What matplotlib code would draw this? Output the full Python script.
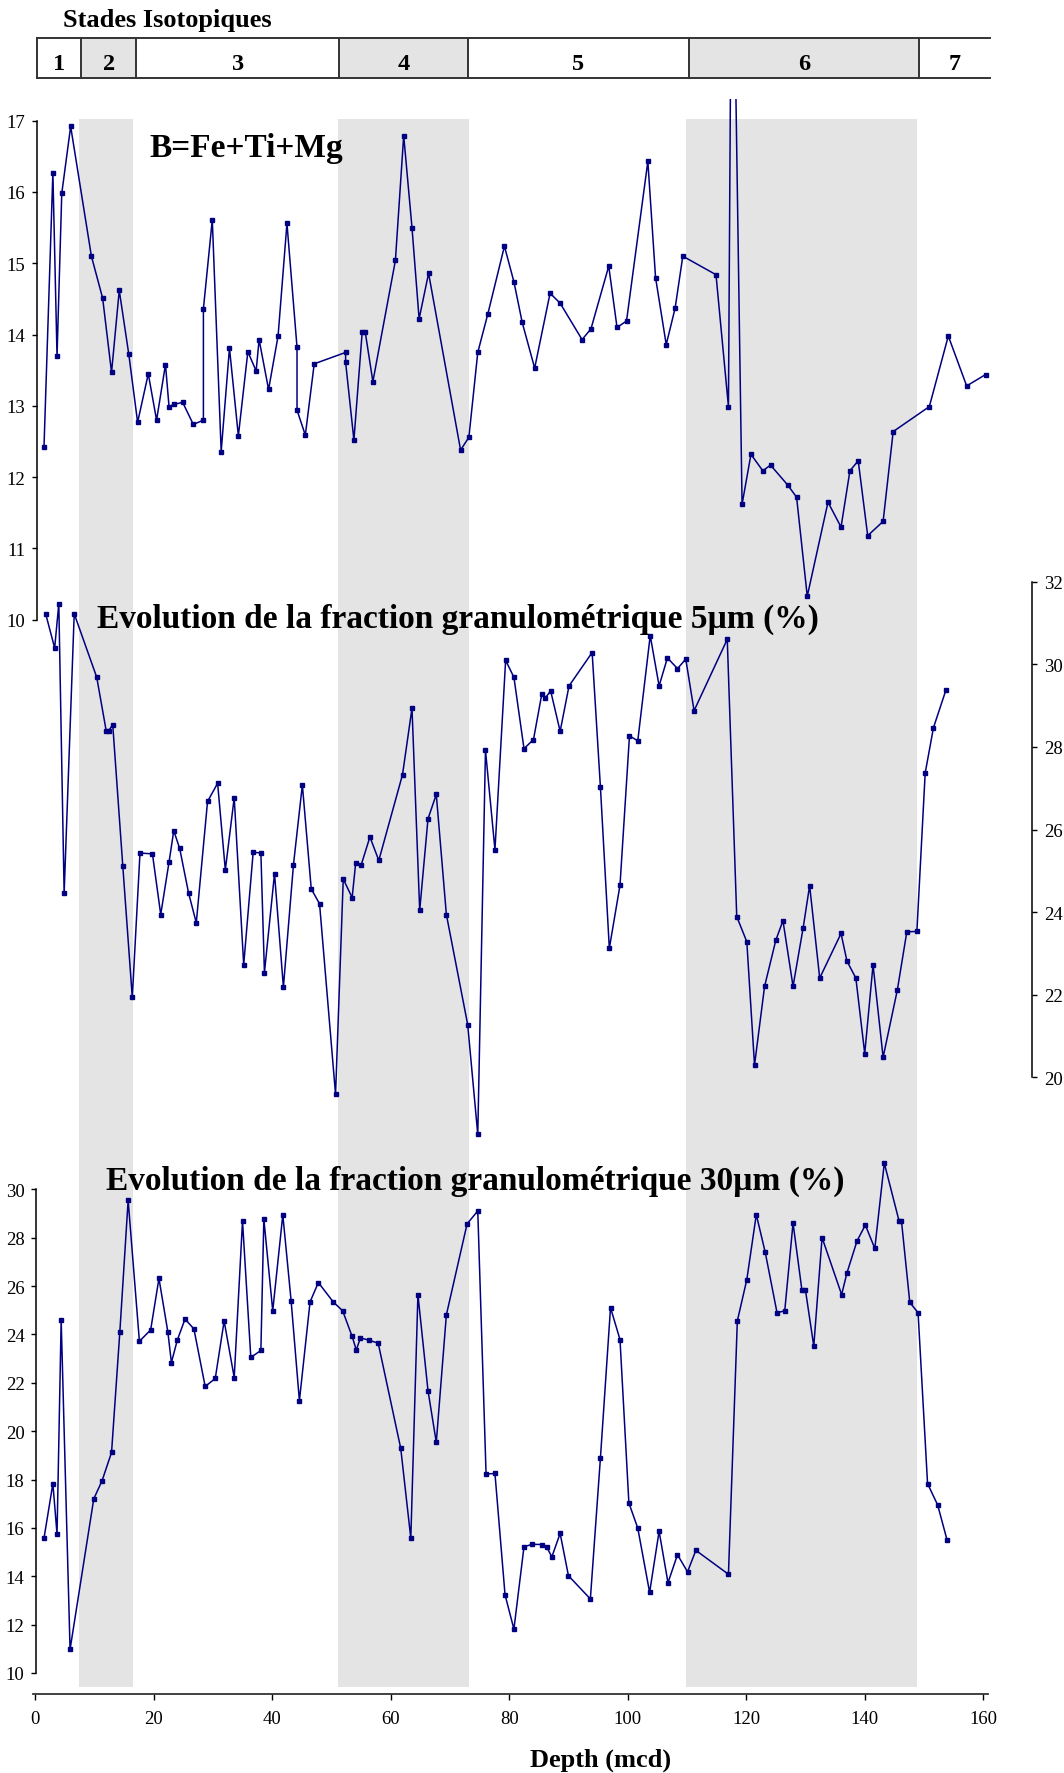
import matplotlib
matplotlib.use('Agg')
import matplotlib.pyplot as plt

plt.rcParams['font.family'] = 'Liberation Serif'

### DATA

# stades isotopiques (limites en profondeur, mcd)
stage_labels = ['1', '2', '3', '4', '5', '6', '7']
stage_bounds = [0.4, 7.75, 17.1, 51.3, 73.1, 110.3, 149.2, 161.2]
stage_grey = [False, True, False, True, False, True, False]
bands = [(7.4, 16.5), (51.1, 73.2), (109.8, 148.9)]

# B = Fe+Ti+Mg
top_d = [1.5, 3.0, 3.7, 4.5, 6.0, 9.5, 11.4, 12.9, 14.2, 15.8,
         17.3, 19.1, 20.5, 22.0, 22.6, 23.4, 24.9, 26.7, 28.4, 28.4,
         29.9, 31.4, 32.8, 34.3, 35.9, 37.3, 37.8, 39.4, 41.0, 42.5,
         44.2, 44.2, 45.6, 47.1, 52.4, 52.4, 53.8, 55.2, 55.7, 57.0,
         60.8, 62.2, 63.6, 64.8, 66.4, 71.8, 73.2, 74.7, 76.4, 79.2,
         80.8, 82.2, 84.3, 86.9, 88.6, 92.3, 93.8, 96.8, 98.2, 99.8,
         103.4, 104.7, 106.5, 108.0, 109.3, 114.9, 117.0, 117.6, 119.3, 120.8,
         122.8, 124.1, 127.0, 128.5, 130.3, 133.8, 136.0, 137.5, 138.9, 140.5,
         143.1, 144.8, 150.9, 154.1, 157.2, 160.4]
top_v = [12.42, 16.27, 13.70, 15.98, 16.92, 15.10, 14.51, 13.47, 14.62, 13.73,
         12.77, 13.45, 12.80, 13.58, 12.99, 13.02, 13.05, 12.74, 12.80, 14.36,
         15.61, 12.36, 13.81, 12.58, 13.76, 13.49, 13.93, 13.23, 13.98, 15.56,
         13.82, 12.94, 12.59, 13.59, 13.75, 13.61, 12.52, 14.04, 14.04, 13.34,
         15.04, 16.79, 15.50, 14.22, 14.86, 12.38, 12.56, 13.75, 14.29, 15.24,
         14.74, 14.17, 13.53, 14.58, 14.44, 13.93, 14.08, 14.96, 14.10, 14.19,
         16.43, 14.80, 13.86, 14.37, 15.10, 14.84, 12.99, 21.0, 11.62, 12.32,
         12.09, 12.17, 11.89, 11.72, 10.33, 11.65, 11.30, 12.09, 12.23, 11.18,
         11.38, 12.64, 12.99, 13.98, 13.28, 13.44]

# fraction 5 um (%)
mid_d = [1.8, 3.3, 4.0, 4.9, 6.6, 10.4, 12.0, 12.4, 13.1, 14.8,
         16.4, 17.7, 19.8, 21.2, 22.6, 23.4, 24.4, 25.9, 27.2, 29.1,
         30.8, 32.1, 33.6, 35.2, 36.8, 38.1, 38.7, 40.4, 41.9, 43.6,
         45.1, 46.6, 48.0, 50.7, 52.0, 53.5, 54.1, 55.0, 56.5, 58.0,
         62.0, 63.6, 64.9, 66.3, 67.7, 69.4, 73.0, 74.7, 76.0, 77.6,
         79.4, 80.8, 82.5, 84.1, 85.5, 86.1, 87.0, 88.6, 90.1, 94.0,
         95.4, 96.9, 98.7, 100.3, 101.7, 103.8, 105.3, 106.7, 108.4, 109.8,
         111.2, 116.8, 118.4, 120.1, 121.4, 123.1, 125.0, 126.2, 127.9, 129.6,
         130.7, 132.4, 136.0, 137.0, 138.5, 140.0, 141.4, 143.1, 145.5, 147.1,
         148.8, 150.2, 151.6, 153.7]
mid_v = [31.22, 30.40, 31.47, 24.46, 31.23, 29.69, 28.39, 28.39, 28.54, 25.11,
         21.93, 25.43, 25.41, 23.94, 25.21, 25.97, 25.54, 24.46, 23.74, 26.68,
         27.12, 25.02, 26.77, 22.72, 25.45, 25.43, 22.53, 24.93, 22.18, 25.15,
         27.08, 24.56, 24.20, 19.58, 24.80, 24.35, 25.19, 25.13, 25.82, 25.25,
         27.33, 28.94, 24.04, 26.26, 26.85, 23.94, 21.27, 18.61, 27.92, 25.51,
         30.10, 29.69, 27.96, 28.18, 29.28, 29.19, 29.36, 28.38, 29.48, 30.29,
         27.02, 23.12, 24.65, 28.27, 28.15, 30.70, 29.48, 30.16, 29.90, 30.13,
         28.88, 30.61, 23.89, 23.28, 20.29, 22.20, 23.32, 23.79, 22.20, 23.61,
         24.64, 22.40, 23.48, 22.81, 22.40, 20.57, 22.72, 20.48, 22.11, 23.52,
         23.53, 27.37, 28.47, 29.38]

# fraction 30 um (%)
bot_d = [1.5, 3.0, 3.7, 4.4, 5.9, 9.9, 11.3, 12.9, 14.3, 15.7,
         17.6, 19.5, 20.9, 22.4, 23.0, 24.0, 25.3, 26.8, 28.7, 30.4,
         31.9, 33.6, 35.0, 36.4, 38.1, 38.6, 40.1, 41.8, 43.2, 44.6,
         46.4, 47.8, 50.3, 51.9, 53.5, 54.2, 54.9, 56.4, 57.9, 61.7,
         63.4, 64.6, 66.3, 67.7, 69.4, 72.9, 74.7, 76.1, 77.6, 79.3,
         80.8, 82.5, 83.9, 85.6, 86.3, 87.2, 88.6, 90.0, 93.7, 95.4,
         97.1, 98.7, 100.2, 101.7, 103.7, 105.3, 106.8, 108.4, 110.1, 111.5,
         117.0, 118.5, 120.1, 121.7, 123.2, 125.2, 126.5, 127.9, 129.4, 130.0,
         131.4, 132.8, 136.1, 137.0, 138.7, 140.1, 141.7, 143.3, 145.8, 146.2,
         147.6, 149.0, 150.6, 152.3, 153.9]
bot_v = [15.57, 17.83, 15.74, 24.59, 10.97, 17.20, 17.95, 19.12, 24.11, 29.55,
         23.72, 24.19, 26.32, 24.11, 22.84, 23.77, 24.64, 24.23, 21.85, 22.18,
         24.56, 22.22, 28.69, 23.05, 23.34, 28.78, 24.98, 28.95, 25.40, 21.26,
         25.35, 26.15, 25.35, 24.98, 23.92, 23.36, 23.86, 23.76, 23.64, 19.29,
         15.57, 25.65, 21.68, 19.54, 24.81, 28.58, 29.11, 18.23, 18.25, 13.23,
         11.81, 15.22, 15.32, 15.31, 15.22, 14.80, 15.77, 14.02, 13.06, 18.90,
         25.11, 23.79, 17.03, 15.99, 13.33, 15.86, 13.73, 14.89, 14.18, 15.07,
         14.08, 24.56, 26.27, 28.96, 27.41, 24.90, 24.98, 28.61, 25.83, 25.83,
         23.52, 28.01, 25.65, 26.55, 27.87, 28.53, 27.56, 31.09, 28.69, 28.69,
         25.33, 24.90, 17.83, 16.95, 15.49]

### LAYOUT (pixels)

W, H = 1064, 1774
X0, SX = 35.1, 5.926          # pixel of depth 0, pixels per m
XMIN, XMAX = -1, 162
XL = X0 + XMIN * SX
XR = X0 + XMAX * SX

NAVY = '#000080'
GREY = '#e4e4e4'

def box(top, bottom):
    return [XL / W, 1 - bottom / H, (XR - XL) / W, (bottom - top) / H]

def clean(ax):
    ax.set_xlim(XMIN, XMAX)
    ax.patch.set_visible(False)
    for s in ax.spines.values():
        s.set_visible(False)
    ax.set_xticks([])

fig = plt.figure(figsize=(W / 100, H / 100), dpi=100)

# grey bands behind everything
bg = fig.add_axes(box(120, 1688))
bg.set_xlim(XMIN, XMAX)
bg.axis('off')
for a, b in bands:
    bg.axvspan(a, b, color=GREY, lw=0)

# stades isotopiques
hd = fig.add_axes(box(39.3, 79))
hd.set_xlim(XMIN, XMAX)
hd.set_ylim(0, 1)
hd.axis('off')
for i, lab in enumerate(stage_labels):
    a, b = stage_bounds[i], stage_bounds[i + 1]
    if stage_grey[i]:
        hd.axvspan(a, b, color=GREY, lw=0)
    hd.text((a + b) / 2, 0.36, lab, ha='center', va='center',
            fontsize=17.5, fontweight='bold')
hd.plot([stage_bounds[0], stage_bounds[-1]], [1, 1], color='#333333', lw=1.4, clip_on=False)
hd.plot([stage_bounds[0], stage_bounds[-1]], [0, 0], color='#333333', lw=1.4, clip_on=False)
for b in stage_bounds[:-1]:
    hd.plot([b, b], [0, 1], color='#333333', lw=1.4, clip_on=False)

fig.text(63 / W, 1 - 26.7 / H, 'Stades Isotopiques', ha='left', va='baseline',
         fontsize=19, fontweight='bold')

line_kw = dict(color=NAVY, lw=1.1, marker='s', ms=2.6, mfc=NAVY, mec=NAVY)
tick_kw = dict(direction='out', length=3.5, width=1, labelsize=13.5, pad=5)

# panneau 1 : B=Fe+Ti+Mg
ax1 = fig.add_axes(box(100.3, 620.8))
clean(ax1)
ax1.set_ylim(10, 17.3)
ax1.plot(top_d, top_v, **line_kw)
ax1.spines['left'].set_visible(True)
ax1.spines['left'].set_position(('data', 0.35))
ax1.spines['left'].set_bounds(10, 17)
ax1.spines['left'].set_linewidth(1.1)
ax1.set_yticks(range(10, 18))
ax1.tick_params(axis='y', **tick_kw)

# panneau 2 : fraction 5 um
ax2 = fig.add_axes(box(574.7, 1160.6))
clean(ax2)
ax2.set_ylim(18, 32.2)
ax2.plot(mid_d, mid_v, **line_kw)
ax2.yaxis.tick_right()
ax2.spines['right'].set_visible(True)
ax2.spines['right'].set_position(('axes', (1032 - XL) / (XR - XL)))
ax2.spines['right'].set_bounds(20, 32)
ax2.spines['right'].set_linewidth(1.1)
ax2.set_yticks(range(20, 33, 2))
ax2.tick_params(axis='y', **tick_kw)

# panneau 3 : fraction 30 um
ax3 = fig.add_axes(box(1151.8, 1694.8))
ax3.set_xlim(XMIN, XMAX)
ax3.patch.set_visible(False)
ax3.set_ylim(9.135, 31.6)
ax3.plot(bot_d, bot_v, **line_kw)
ax3.spines['top'].set_visible(False)
ax3.spines['right'].set_visible(False)
ax3.spines['left'].set_position(('data', 0.2))
ax3.spines['left'].set_bounds(10, 30)
ax3.spines['bottom'].set_bounds(-0.35, 160.8)
ax3.spines['left'].set_linewidth(1.1)
ax3.spines['bottom'].set_linewidth(1.3)
ax3.spines['bottom'].set_color('#333333')
ax3.set_yticks(range(10, 31, 2))
ax3.set_xticks(range(0, 161, 20))
ax3.tick_params(axis='y', **tick_kw)
ax3.tick_params(axis='x', direction='out', length=4, width=1, labelsize=13.5, pad=8)

# titres
fig.text(149.8 / W, 1 - 156.7 / H, 'B=Fe+Ti+Mg', ha='left', va='baseline',
         fontsize=24, fontweight='bold')
fig.text(96.7 / W, 1 - 627.3 / H, 'Evolution de la fraction granulométrique 5µm (%)',
         ha='left', va='baseline', fontsize=24, fontweight='bold')
fig.text(105.5 / W, 1 - 1189.3 / H, 'Evolution de la fraction granulométrique 30µm (%)',
         ha='left', va='baseline', fontsize=24, fontweight='bold')
fig.text(601 / W, 1 - 1767 / H, 'Depth (mcd)', ha='center', va='baseline',
         fontsize=19, fontweight='bold')

fig.savefig('out.png', dpi=100)
